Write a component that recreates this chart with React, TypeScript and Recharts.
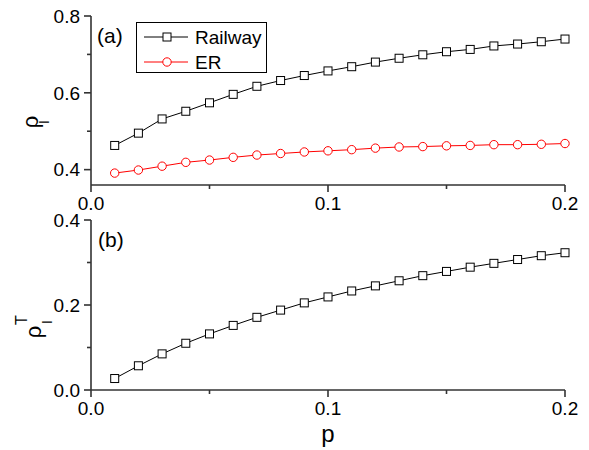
import { Legend, Line, LineChart, XAxis, YAxis } from "recharts";

// p values on the x axis
const pValues = [
  0.01, 0.02, 0.03, 0.04, 0.05, 0.06, 0.07, 0.08, 0.09, 0.1,
  0.11, 0.12, 0.13, 0.14, 0.15, 0.16, 0.17, 0.18, 0.19, 0.2,
];

// panel (a)
const railwayRho = [
  0.463, 0.495, 0.532, 0.552, 0.574, 0.596, 0.617, 0.632, 0.645, 0.657,
  0.668, 0.68, 0.69, 0.699, 0.707, 0.713, 0.722, 0.727, 0.733, 0.74,
];
const erRho = [
  0.391, 0.399, 0.409, 0.419, 0.425, 0.432, 0.438, 0.442, 0.446, 0.449,
  0.452, 0.456, 0.459, 0.46, 0.462, 0.463, 0.465, 0.465, 0.466, 0.468,
];

// panel (b)
const railwayRhoT = [
  0.027, 0.057, 0.085, 0.11, 0.132, 0.152, 0.171, 0.188, 0.205, 0.219,
  0.233, 0.245, 0.257, 0.269, 0.279, 0.289, 0.298, 0.307, 0.316, 0.323,
];

const xTicks = [0, 0.05, 0.1, 0.15, 0.2];
const xLabels = ["0.0", "", "0.1", "", "0.2"];
const topYTicks = [0.4, 0.5, 0.6, 0.7, 0.8];
const topYLabels = ["0.4", "", "0.6", "", "0.8"];
const bottomYTicks = [0, 0.1, 0.2, 0.3, 0.4];
const bottomYLabels = ["0.0", "", "0.2", "", "0.4"];

const seriesOrder = ["railway", "er"];

const topData = pValues.map((p, i) => ({ p, railway: railwayRho[i], er: erRho[i] }));
const bottomData = pValues.map((p, i) => ({ p, railway: railwayRhoT[i] }));

const FONT = "'Liberation Sans', Arial, Helvetica, sans-serif";
const AXIS = "#333";
const AXIS_W = 1.6;
const X_OFF = 12; // tick size + gap below x axis

const lookup = (ticks: number[], labels: string[], v: number) => {
  const i = ticks.findIndex((t) => Math.abs(t - v) < 1e-9);
  return i >= 0 ? labels[i] : "";
};

// bottom axis: outward ticks + label
const bottomTick = (ticks: number[], labels: string[]) => (props: any) => {
  const { x, y, payload } = props;
  const label = lookup(ticks, labels, payload.value);
  const axisY = y - X_OFF;
  const len = label ? 7 : 4;
  return (
    <g>
      <line x1={x} x2={x} y1={axisY} y2={axisY + len} stroke={AXIS} strokeWidth={AXIS_W} />
      {label && (
        <text x={x} y={y} dy="0.71em" textAnchor="middle" fontSize={19} fontFamily={FONT} fill="#000">
          {label}
        </text>
      )}
    </g>
  );
};

// left axis: outward ticks + label (tickSize 11)
const leftTick = (ticks: number[], labels: string[]) => (props: any) => {
  const { x, y, payload } = props;
  const label = lookup(ticks, labels, payload.value);
  const axisX = x + 11;
  const len = label ? 7 : 4;
  return (
    <g>
      <line x1={axisX} x2={axisX - len} y1={y} y2={y} stroke={AXIS} strokeWidth={AXIS_W} />
      {label && (
        <text x={x} y={y} dy="0.355em" textAnchor="end" fontSize={19} fontFamily={FONT} fill="#000">
          {label}
        </text>
      )}
    </g>
  );
};

// mirror frame axes: ticks pointing inward, no labels
const topFrameTick = (ticks: number[], labels: string[]) => (props: any) => {
  const { x, y, payload } = props;
  const len = lookup(ticks, labels, payload.value) ? 5 : 3;
  return <line x1={x} x2={x} y1={y} y2={y + len} stroke={AXIS} strokeWidth={AXIS_W} />;
};
const rightFrameTick = (ticks: number[], labels: string[]) => (props: any) => {
  const { x, y, payload } = props;
  const len = lookup(ticks, labels, payload.value) ? 5 : 3;
  return <line x1={x} x2={x - len} y1={y} y2={y} stroke={AXIS} strokeWidth={AXIS_W} />;
};

const squareDot = (color: string) => (props: any) => {
  const { cx, cy, index } = props;
  return (
    <rect key={`s-${index}`} x={cx - 4} y={cy - 4} width={8} height={8} fill="#fff" stroke={color} strokeWidth={1} />
  );
};
const circleDot = (color: string) => (props: any) => {
  const { cx, cy, index } = props;
  return <circle key={`c-${index}`} cx={cx} cy={cy} r={4.2} fill="#fff" stroke={color} strokeWidth={1} />;
};

const markerShape: Record<string, string> = { railway: "square", er: "circle" };

const renderLegend = (props: any) => {
  const payload = [...(props.payload || [])].sort(
    (a: any, b: any) => seriesOrder.indexOf(a.dataKey) - seriesOrder.indexOf(b.dataKey)
  );
  return (
    <svg width={131} height={51} style={{ display: "block" }}>
      <rect x={0.5} y={0.5} width={130} height={50} fill="#fff" stroke="#000" strokeWidth={1} />
      {payload.map((entry: any, i: number) => {
        const cy = 15 + i * 25;
        const color = entry.color;
        return (
          <g key={entry.value}>
            <line x1={8} x2={52} y1={cy} y2={cy} stroke={color} strokeWidth={1} />
            {markerShape[entry.dataKey] === "square" ? (
              <rect x={27} y={cy - 4} width={8} height={8} fill="#fff" stroke={color} />
            ) : (
              <circle cx={31} cy={cy} r={4.2} fill="#fff" stroke={color} />
            )}
            <text x={59} y={cy} dy="0.355em" fontSize={19} fontFamily={FONT} fill="#000">
              {entry.value}
            </text>
          </g>
        );
      })}
    </svg>
  );
};

const rhoLabel = (cx: number, cy: number, withT: boolean) => () => (
  <g transform={`translate(${cx},${cy}) rotate(-90)`} fontFamily={FONT} fill="#000">
    <text x={0} y={0} textAnchor="middle" fontSize={22}>ρ</text>
    <text x={withT ? 10 : 0} y={11} textAnchor="middle" fontSize={14}>I</text>
    {withT && (
      <text x={12} y={-14} textAnchor="middle" fontSize={16}>T</text>
    )}
  </g>
);

const panelTag = (text: string, left: number, top: number) => (
  <div
    style={{
      position: "absolute",
      left,
      top,
      fontFamily: FONT,
      fontSize: 21,
      lineHeight: "24px",
      color: "#000",
    }}
  >
    {text}
  </div>
);

const App = () => {
  return (
    <div style={{ position: "absolute", left: 0, top: 0, width: 589, height: 450, background: "#fff" }}>
      <div style={{ position: "absolute", left: 0, top: 0 }}>
        <LineChart width={589} height={218} data={topData} margin={{ top: 16, right: 24, bottom: 0, left: 0 }}>
          <XAxis
            dataKey="p"
            type="number"
            domain={[0, 0.2]}
            ticks={xTicks}
            interval={0}
            height={33}
            tickSize={X_OFF}
            tickMargin={0}
            tickLine={false}
            stroke={AXIS}
            strokeWidth={AXIS_W}
            tick={bottomTick(xTicks, xLabels)}
          />
          <XAxis
            xAxisId="t"
            dataKey="p"
            type="number"
            orientation="top"
            domain={[0, 0.2]}
            ticks={xTicks}
            interval={0}
            height={0}
            tickSize={0}
            tickMargin={0}
            tickLine={false}
            stroke={AXIS}
            strokeWidth={AXIS_W}
            tick={topFrameTick(xTicks, xLabels)}
          />
          <YAxis
            yAxisId="l"
            type="number"
            domain={[0.36, 0.8]}
            ticks={topYTicks}
            interval={0}
            width={91}
            tickSize={11}
            tickMargin={0}
            tickLine={false}
            stroke={AXIS}
            strokeWidth={AXIS_W}
            tick={leftTick(topYTicks, topYLabels)}
            label={{ content: rhoLabel(38, 122, false) }}
          />
          <YAxis
            yAxisId="r"
            orientation="right"
            type="number"
            domain={[0.36, 0.8]}
            ticks={topYTicks}
            interval={0}
            width={0}
            tickSize={0}
            tickMargin={0}
            tickLine={false}
            stroke={AXIS}
            strokeWidth={AXIS_W}
            tick={rightFrameTick(topYTicks, topYLabels)}
          />
          <Legend
            layout="vertical"
            align="center"
            verticalAlign="middle"
            wrapperStyle={{ position: "absolute", left: 136, top: 22, width: 131, height: 51 }}
            content={renderLegend}
          />
          <Line
            yAxisId="l"
            dataKey="railway"
            name="Railway"
            stroke="#000"
            strokeWidth={1}
            dot={squareDot("#000")}
            activeDot={false}
            isAnimationActive={false}
          />
          <Line
            yAxisId="l"
            dataKey="er"
            name="ER"
            stroke="#ff0000"
            strokeWidth={1}
            dot={circleDot("#ff0000")}
            activeDot={false}
            isAnimationActive={false}
          />
        </LineChart>
      </div>
      <div style={{ position: "absolute", left: 0, top: 200 }}>
        <LineChart width={589} height={250} data={bottomData} margin={{ top: 20, right: 24, bottom: 0, left: 0 }}>
          <XAxis
            dataKey="p"
            type="number"
            domain={[0, 0.2]}
            ticks={xTicks}
            interval={0}
            height={60}
            tickSize={X_OFF}
            tickMargin={0}
            tickLine={false}
            stroke={AXIS}
            strokeWidth={AXIS_W}
            tick={bottomTick(xTicks, xLabels)}
            label={{
              content: () => (
                <text x={328} y={242} textAnchor="middle" fontSize={24} fontFamily={FONT} fill="#000">
                  p
                </text>
              ),
            }}
          />
          <XAxis
            xAxisId="t"
            dataKey="p"
            type="number"
            orientation="top"
            domain={[0, 0.2]}
            ticks={xTicks}
            interval={0}
            height={0}
            tickSize={0}
            tickMargin={0}
            tickLine={false}
            stroke={AXIS}
            strokeWidth={AXIS_W}
            tick={topFrameTick(xTicks, xLabels)}
          />
          <YAxis
            yAxisId="l"
            type="number"
            domain={[0, 0.4]}
            ticks={bottomYTicks}
            interval={0}
            width={91}
            tickSize={11}
            tickMargin={0}
            tickLine={false}
            stroke={AXIS}
            strokeWidth={AXIS_W}
            tick={leftTick(bottomYTicks, bottomYLabels)}
            label={{ content: rhoLabel(41, 132, true) }}
          />
          <YAxis
            yAxisId="r"
            orientation="right"
            type="number"
            domain={[0, 0.4]}
            ticks={bottomYTicks}
            interval={0}
            width={0}
            tickSize={0}
            tickMargin={0}
            tickLine={false}
            stroke={AXIS}
            strokeWidth={AXIS_W}
            tick={rightFrameTick(bottomYTicks, bottomYLabels)}
          />
          <Line
            yAxisId="l"
            dataKey="railway"
            name="Railway"
            stroke="#000"
            strokeWidth={1}
            dot={squareDot("#000")}
            activeDot={false}
            isAnimationActive={false}
          />
        </LineChart>
      </div>
      {panelTag("(a)", 97, 24)}
      {panelTag("(b)", 98, 228)}
    </div>
  );
};

export default App;
